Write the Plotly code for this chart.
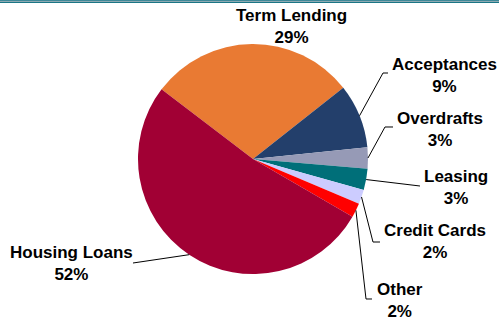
import math
import plotly.graph_objects as go

# ---- data ----
labels = ["Term Lending", "Acceptances", "Overdrafts", "Leasing",
          "Credit Cards", "Other", "Housing Loans"]
values = [29, 9, 3, 3, 2, 2, 52]
pct_labels = ["29%", "9%", "3%", "3%", "2%", "2%", "52%"]
colors = ["#E97A33", "#233F6B", "#969AB6", "#006F79",
          "#CCCCFF", "#FF0000", "#A10034"]

# ---- layout constants (pixels) ----
W, H = 499, 320
cx, cy, R = 253, 159, 115
start_angle = -52.7   # clockwise from 12 o'clock, where first slice starts

def P(x, y):
    return x / W, 1 - y / H

# label centres and leader-line elbows / ends (layout only)
label_pos = {
    "Term Lending": (291, 26),
    "Acceptances": (444, 75),
    "Overdrafts": (440, 129),
    "Leasing": (456, 187),
    "Credit Cards": (435, 241),
    "Other": (400, 300),
    "Housing Loans": (71, 263),
}
leader = {
    "Acceptances": [(383, 73), (388, 73)],
    "Overdrafts": [(385, 127), (393, 127)],
    "Leasing": [(420, 186)],
    "Credit Cards": [(373, 242), (380, 242)],
    "Other": [(366, 299), (372, 299)],
    "Housing Loans": [(133, 263)],
}

fig = go.Figure(go.Pie(
    labels=labels, values=values, sort=False, direction="clockwise",
    rotation=start_angle,
    marker=dict(colors=colors, line=dict(width=0)),
    textinfo="none", hoverinfo="label+percent", showlegend=False,
    domain=dict(x=[(cx - R) / W, (cx + R) / W],
                y=[1 - (cy + R) / H, 1 - (cy - R) / H]),
))

total = sum(values)
cum = 0
shapes = []
annotations = []
for lab, v, pl in zip(labels, values, pct_labels):
    mid = math.radians(start_angle + 360 * (cum + v / 2) / total)
    cum += v
    ex, ey = cx + R * math.sin(mid), cy - R * math.cos(mid)
    if lab in leader:
        pts = [(ex, ey)] + leader[lab]
        path = "M " + " L ".join("%.5f,%.5f" % P(x, y) for x, y in pts)
        shapes.append(dict(type="path", xref="paper", yref="paper", path=path,
                           line=dict(color="black", width=1)))
    lx, ly = label_pos[lab]
    ax, ay = P(lx, ly)
    annotations.append(dict(
        x=ax, y=ay, xref="paper", yref="paper", showarrow=False,
        text=f"{lab}<br>{pl}", align="center", xanchor="center", yanchor="middle",
        font=dict(family="Liberation Sans, Arial, sans-serif", size=17,
                  color="black", weight="bold"),
    ))

# top border stripes
for yy, col in [(0.5, "#3E8898"), (1.5, "#8FAAB2"), (2.5, "#1A7686")]:
    shapes.append(dict(type="line", xref="paper", yref="paper",
                       x0=0, x1=1, y0=1 - yy / H, y1=1 - yy / H,
                       line=dict(color=col, width=1)))

fig.update_layout(
    width=W, height=H, margin=dict(l=0, r=0, t=0, b=0),
    paper_bgcolor="white", plot_bgcolor="white",
    shapes=shapes, annotations=annotations,
)
fig.write_html("out.html", config={"displayModeBar": False},
               post_script="document.body.style.margin='0';"
                           "document.body.style.overflow='hidden';")
